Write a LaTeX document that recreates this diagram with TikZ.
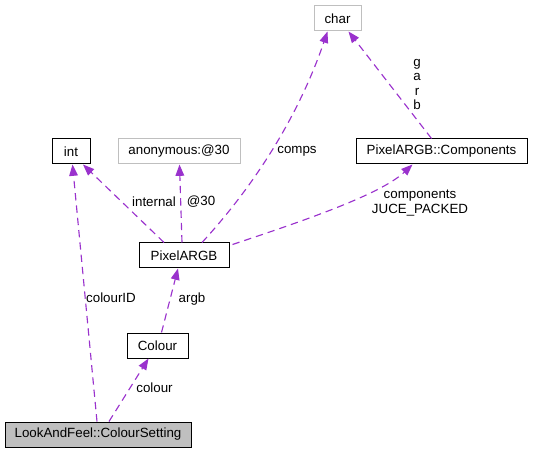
\documentclass[tikz,border=0pt]{standalone}
\usepackage{fontspec}
\setmainfont{Liberation Sans}
\usetikzlibrary{calc}
\usetikzlibrary{arrows.meta}

\definecolor{edgepurple}{HTML}{9A32CD}
\definecolor{boxgray}{HTML}{BFBFBF}

\begin{document}
\begin{tikzpicture}[x=0.75pt, y=-0.75pt,
    font=\fontsize{10}{10.7}\selectfont,
    cls/.style={draw=black, line width=0.75pt, minimum height=18.75pt, inner sep=0pt, minimum width=#1*0.75pt},
    ext/.style={cls=#1, draw=boxgray},
    uses/.style={edgepurple, line width=0.85pt, dash pattern=on 5.5pt off 3.75pt, -{Triangle[length=8.5pt, width=6.5pt]}},
    lbl/.style={align=center, inner sep=0pt}]
    \useasboundingbox (0, 0) rectangle (533, 453);
    % classes
    \node[ext=47] (chr) at (337.5, 18.5) {char};
    \node[cls=38] (int) at (71, 151.5) {int};
    \node[ext=122] (anon) at (179, 151.5) {anonymous:@30};
    \node[cls=171] (components) at (441.5, 151.5) {PixelARGB::Components};
    \node[cls=90] (pixel) at (184, 255.5) {PixelARGB};
    \node[cls=61] (colour) at (157.5, 345.5) {Colour};
    \node[cls=186, fill=boxgray] (set) at (98, 434.5) {LookAndFeel::ColourSetting};
    % members
    \draw[uses] ($(set.north)+(-1, 0)$) -- ($(int.south)+(1.5, 0)$);
    \draw[uses] ($(set.north)+(11, 0)$) -- ($(colour.south)+(-9, 0)$);
    \draw[uses] ($(colour.north)+(4, 0)$) -- ($(pixel.south)+(-6, 0)$);
    \draw[uses] ($(pixel.north)+(-20, 0)$) -- ($(int.south)+(12, 0)$);
    \draw[uses] ($(pixel.north)+(-2, 0)$) -- ($(anon.south)+(0.5, 0)$);
    \draw[uses] ($(pixel.north)+(18, 0)$) .. controls (258.6, 181) and (300.6, 110.4) .. ($(chr.south)+(-10, 0)$);
    \draw[uses] ($(pixel.north east)+(3, 2)$) .. controls (300, 222) and (380, 195) .. ($(components.south)+(-29, 0)$);
    \draw[uses] ($(components.north)+(-10, 0)$) -- ($(chr.south)+(11, 0)$);
    % labels
    \node[lbl] (lcolourid) at (111, 298) {colourID};
    \node[lbl] (lcolour) at (154.5, 388) {colour};
    \node[lbl] (largb) at (192, 299) {argb};
    \node[lbl] (linternal) at (154, 202) {internal};
    \node[lbl] (lanon) at (201, 202) {@30};
    \node[lbl] (lcomps) at (297, 151) {comps};
    \node[lbl] (lcomponents) at (420, 203) {components\\JUCE\_PACKED};
    \node[lbl] (lgarb) at (417, 84.5) {g\\a\\r\\b};
\end{tikzpicture}
\end{document}
